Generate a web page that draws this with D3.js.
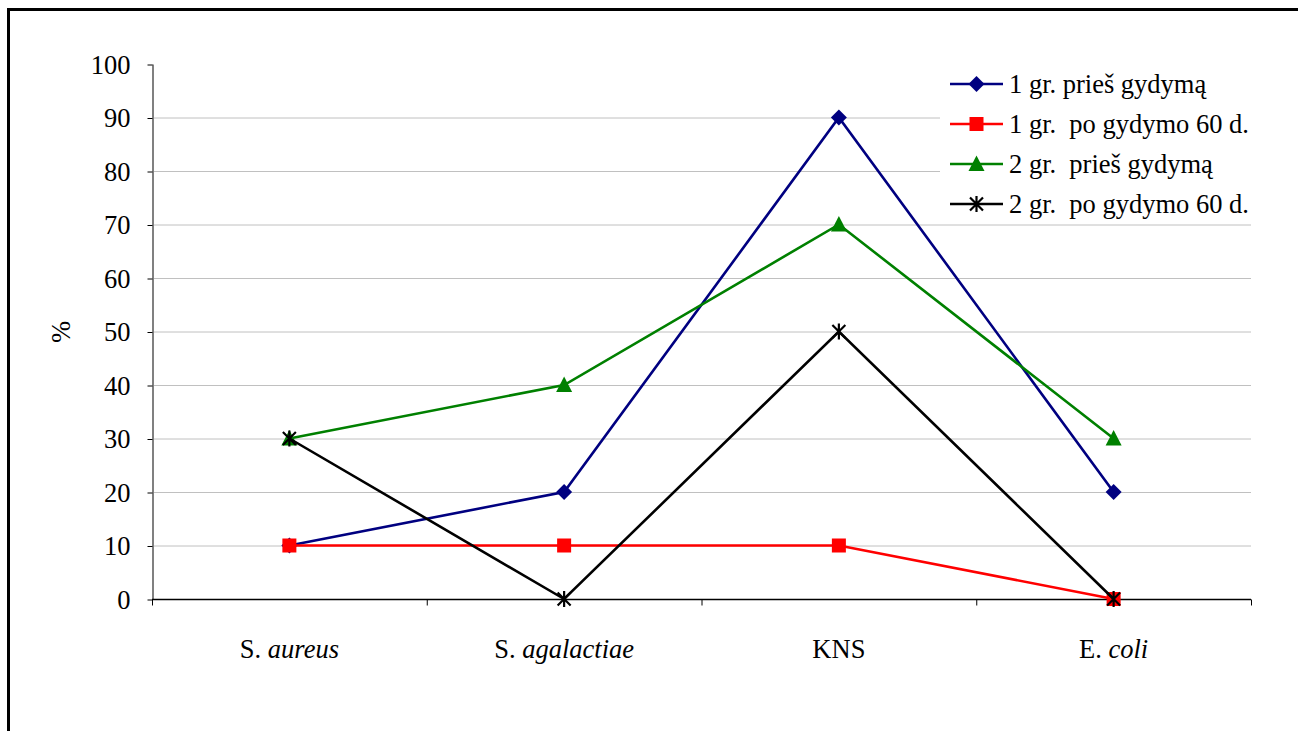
<!DOCTYPE html>
<html><head><meta charset="utf-8">
<script src="https://cdn.jsdelivr.net/npm/d3@7"></script>
<style>body{margin:0;background:#fff}svg{display:block}svg text{font-family:"Liberation Serif",serif}</style>
</head><body>
<svg id="c" width="1298" height="731"></svg>
<script>
const categories = [["S. ","aureus"],["S. ","agalactiae"],["KNS",""],["E. ","coli"]];
const seriesNames = ["1 gr. prieš gydymą","1 gr.  po gydymo 60 d.","2 gr.  prieš gydymą","2 gr.  po gydymo 60 d."];
const s1 = [10,20,90,20];
const s2 = [10,10,10,0];
const s3 = [30,40,70,30];
const s4 = [30,0,50,0];
const yTicks = [0,10,20,30,40,50,60,70,80,90,100];
const colors = ["#000080","#ff0000","#008000","#000000"];
const symbols = ["diamond","square","triangle","asterisk"];
const series = [s1,s2,s3,s4];

const svg = d3.select("#c");
svg.append("rect").attr("x",8.5).attr("y",9.5).attr("width",1400).attr("height",1000)
  .attr("fill","none").attr("stroke","#000").attr("stroke-width",3);

const L=152,R=1251,T=64,B=599;
const x = d3.scaleBand().domain(d3.range(categories.length)).range([L,R]);
const y = d3.scaleLinear().domain([0,100]).range([B,T]);
const FS = 26.5;

// gridlines
svg.append("g").selectAll("line").data(yTicks.filter(t=>t>0&&t<100)).join("line")
  .attr("x1",L).attr("x2",R).attr("y1",d=>y(d)+0.5).attr("y2",d=>y(d)+0.5)
  .attr("stroke","#c0c0c0").attr("stroke-width",1);

// y axis
const ya = svg.append("g").attr("transform",`translate(${L+0.5},0)`)
  .call(d3.axisLeft(y).tickValues(yTicks).tickSize(5).tickPadding(17).tickSizeOuter(0));
ya.attr("font-family",null).attr("font-size",null);
ya.select(".domain").attr("stroke","#808080").attr("stroke-width",2);
ya.selectAll(".tick line").attr("stroke","#000").attr("transform","translate(0,0.5)");
ya.selectAll(".tick text").attr("font-size",FS).attr("fill","#000").attr("dy","0.34em");

// x axis
const xa = svg.append("g").attr("transform",`translate(0,${B+0.5})`);
xa.append("line").attr("x1",L).attr("x2",R).attr("stroke","#000").attr("stroke-width",1.5);
const bounds = d3.range(categories.length+1).map(i=> i<categories.length? x(i): x(categories.length-1)+x.bandwidth());
xa.selectAll("line.tk").data(bounds).join("line").attr("class","tk")
  .attr("x1",d=>d+0.5).attr("x2",d=>d+0.5).attr("y1",0).attr("y2",6).attr("stroke","#000");
const lab = xa.selectAll("text").data(categories).join("text")
  .attr("x",(d,i)=>x(i)+x.bandwidth()/2).attr("y",58).attr("text-anchor","middle")
  .attr("font-size",FS).attr("fill","#000");
lab.append("tspan").text(d=>d[0]);
lab.append("tspan").attr("font-style","italic").text(d=>d[1]);

// y label
svg.append("text").attr("transform","translate(70,332) rotate(-90)").attr("text-anchor","middle")
  .attr("font-size",FS).text("%");

function marker(g, type, color){
  const s=14;
  if(type==="diamond") g.append("path").attr("d",`M0,${-s/2-1}L${s/2+1},0L0,${s/2+1}L${-s/2-1},0Z`).attr("fill",color);
  else if(type==="square") g.append("rect").attr("x",-s/2).attr("y",-s/2).attr("width",s).attr("height",s).attr("fill",color);
  else if(type==="triangle") g.append("path").attr("d",`M0,${-s/2-1.5}L${s/2+1},${s/2}L${-s/2-1},${s/2}Z`).attr("fill",color);
  else {
    const r=6.5;
    g.append("path").attr("d",`M${-r},${-r}L${r},${r}M${-r},${r}L${r},${-r}M0,${-r-1.5}L0,${r+1.5}`)
      .attr("stroke",color).attr("stroke-width",2.2).attr("fill","none");
  }
}

const line = d3.line().x((d,i)=>x(i)+x.bandwidth()/2).y(d=>y(d));
series.forEach((s,k)=>{
  svg.append("path").datum(s).attr("d",line).attr("fill","none").attr("stroke",colors[k]).attr("stroke-width",2.6);
  s.forEach((v,i)=>{
    const g = svg.append("g").attr("transform",`translate(${x(i)+x.bandwidth()/2},${y(v)})`);
    marker(g, symbols[k], colors[k]);
  });
});

// legend
const lg = svg.append("g");
lg.append("rect").attr("x",940).attr("y",68).attr("width",320).attr("height",152).attr("fill","#fff");
seriesNames.forEach((n,k)=>{
  const yy = 84 + k*40;
  lg.append("line").attr("x1",950).attr("x2",1003).attr("y1",yy).attr("y2",yy).attr("stroke",colors[k]).attr("stroke-width",2.6);
  marker(lg.append("g").attr("transform",`translate(976.5,${yy})`), symbols[k], colors[k]);
  lg.append("text").attr("x",1009).attr("y",yy+9).attr("font-size",FS)
    .attr("xml:space","preserve").style("white-space","pre").text(n);
});
</script>
</body></html>
